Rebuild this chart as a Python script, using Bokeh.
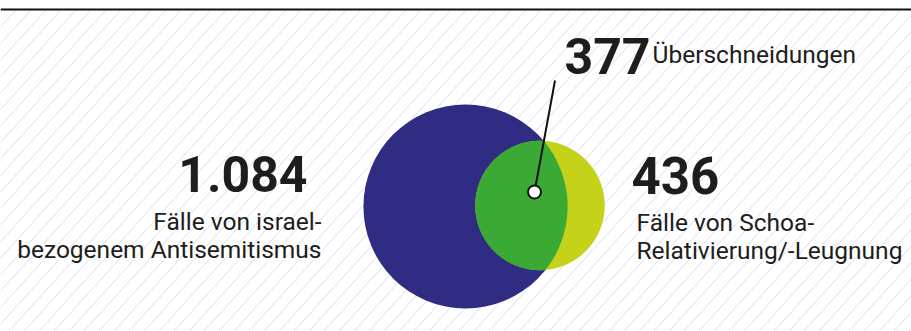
import numpy as np
from bokeh.plotting import figure
from bokeh.models import Range1d, Span
from bokeh.core.properties import value
from bokeh.embed import file_html
from bokeh.resources import INLINE

# ---------------- data ----------------
set_names = ["israelbezogener Antisemitismus", "Schoa-Relativierung/-Leugnung"]
set_counts = [1084, 436]
overlap_count = 377
count_labels = ["1.084", "436"]
overlap_label = "377"
overlap_text = "Überschneidungen"
desc_left = ["Fälle von israel-", "bezogenem Antisemitismus"]
desc_right = ["Fälle von Schoa-", "Relativierung/-Leugnung"]

# ---------------- layout / style ----------------
W, H = 911, 331
BLUE = "#312c83"
LIME = "#c4d21a"
GREEN = "#3aaa35"
INK = "#1d1d1b"
HATCH = "#dcdcf0"
FONT = "Roboto"
BIG_DY = -20     # baseline correction for 50px text
SMALL_DY = -11   # baseline correction for 24.5px text

p = figure(width=W, height=H, output_backend="svg", toolbar_location=None,
           x_range=Range1d(0, W), y_range=Range1d(H, 0))
p.min_border = 0
p.min_border_left = p.min_border_right = p.min_border_top = p.min_border_bottom = 0
p.outline_line_color = None
p.xaxis.visible = False
p.yaxis.visible = False
p.grid.visible = False
p.background_fill_color = "white"
p.border_fill_color = "white"

# background diagonal hatching
slope = 1.1
spacing = 15.0
y_top, y_bot = 10.0, float(H)
span_x = (y_bot - y_top) / slope
xs, ys = [], []
for x0 in np.arange(-span_x, W + spacing, spacing):
    xs.append([x0, x0 + span_x])
    ys.append([y_bot, y_top])
p.multi_line(xs, ys, line_color=HATCH, line_width=1)

# top rule
p.add_layout(Span(location=9, dimension="width", line_color="#111111", line_width=2))

# circles: area proportional to counts
px_per_sqrt = 3.1
r_big, r_small = [px_per_sqrt * np.sqrt(c) for c in set_counts]
c_big = np.array([465.0, 206.0])
c_small = np.array([539.5, 205.0])

p.circle(x=[c_big[0]], y=[c_big[1]], radius=r_big, fill_color=BLUE, line_color=None)
p.circle(x=[c_small[0]], y=[c_small[1]], radius=r_small, fill_color=LIME, line_color=None)

# lens (intersection)
dvec = c_small - c_big
d = np.hypot(*dvec)
phi = np.arctan2(dvec[1], dvec[0])
a = (r_big**2 - r_small**2 + d**2) / (2 * d)
alpha1 = np.arccos(np.clip(a / r_big, -1, 1))
alpha2 = np.arccos(np.clip((d - a) / r_small, -1, 1))
t1 = np.linspace(phi - alpha1, phi + alpha1, 200)
arc1_x = c_big[0] + r_big * np.cos(t1)
arc1_y = c_big[1] + r_big * np.sin(t1)
t2 = np.linspace(phi + np.pi - alpha2, phi + np.pi + alpha2, 300)
arc2_x = c_small[0] + r_small * np.cos(t2)
arc2_y = c_small[1] + r_small * np.sin(t2)
lens_x = np.concatenate([arc1_x, arc2_x])
lens_y = np.concatenate([arc1_y, arc2_y])
p.patch(lens_x, lens_y, fill_color=GREEN, line_color=None)

# leader line and dot
dot = (534.0, 191.5)
p.segment(x0=[dot[0]], y0=[dot[1]], x1=[554.5], y1=[80.0], line_color="#111111", line_width=2)
p.circle(x=[dot[0]], y=[dot[1]], radius=6.5, fill_color="white", line_color="#111111", line_width=2)

# texts
p.text(x=[564], y=[75 + BIG_DY], text=[overlap_label], text_font=value(FONT), text_font_style="bold",
       text_font_size="50px", text_align="left", text_baseline="alphabetic", text_color=INK)
p.text(x=[652], y=[65 + SMALL_DY], text=[overlap_text], text_font=value(FONT),
       text_font_size="24.5px", text_align="left", text_baseline="alphabetic", text_color=INK)

p.text(x=[307], y=[193 + BIG_DY], text=[count_labels[0]], text_font=value(FONT), text_font_style="bold",
       text_font_size="50px", text_align="right", text_baseline="alphabetic", text_color=INK)
p.text(x=[321, 321], y=[232 + SMALL_DY, 260 + SMALL_DY], text=desc_left, text_font=value(FONT),
       text_font_size="24.5px", text_align="right", text_baseline="alphabetic", text_color=INK)

p.text(x=[631], y=[195 + BIG_DY], text=[count_labels[1]], text_font=value(FONT), text_font_style="bold",
       text_font_size="51px", text_align="left", text_baseline="alphabetic", text_color=INK)
p.text(x=[636, 636], y=[233 + SMALL_DY, 261 + SMALL_DY], text=desc_right, text_font=value(FONT),
       text_font_size="24.5px", text_align="left", text_baseline="alphabetic", text_color=INK)

open("out.html", "w").write(file_html(p, INLINE))
